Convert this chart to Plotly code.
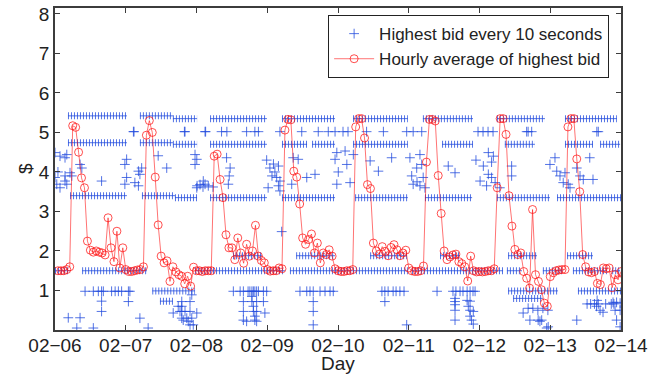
import plotly.graph_objects as go

# ---------------- data ----------------
# x axis: hours since 02-06 00:00
day_tick_hours = [0, 24, 48, 72, 96, 120, 144, 168, 192]
day_tick_labels = ["02\u221206", "02\u221207", "02\u221208", "02\u221209", "02\u221210",
                   "02\u221211", "02\u221212", "02\u221213", "02\u221214"]
price_ticks = [1, 2, 3, 4, 5, 6, 7, 8]

# hourly average of highest bid (hours 1..192)
avg_hour = list(range(1, 193))
avg_price = [
    1.5, 1.5, 1.5, 1.53, 1.6, 5.17, 5.13, 4.5, 3.85, 3.6, 2.25, 2.02,
    1.97, 2.0, 1.97, 1.95, 1.9, 2.84, 2.08, 1.73, 2.5, 1.57, 2.08, 1.53,
    1.48, 1.48, 1.5, 1.52, 1.53, 1.6, 4.93, 5.3, 5.0, 3.87, 2.66, 1.87,
    1.7, 1.75, 1.23, 1.6, 1.47, 1.4, 1.36, 1.17, 1.36, 1.11, 1.59, 1.5,
    1.5, 1.48, 1.5, 1.5, 1.5, 4.4, 4.45, 3.81, 3.35, 2.41, 2.08, 2.08,
    1.78, 2.33, 1.95, 1.69, 2.17, 1.87, 2.0, 2.65, 1.87, 1.76, 1.7, 1.53,
    1.49, 1.5, 1.5, 1.57, 1.55, 5.06, 5.33, 5.32, 4.02, 3.87, 3.19, 2.33,
    2.17, 2.29, 2.43, 1.95, 2.2, 1.7, 1.95, 1.91, 2.03, 1.87, 1.55, 1.5,
    1.48, 1.48, 1.5, 1.5, 1.53, 5.14, 5.35, 5.35, 4.86, 3.68, 3.58, 2.2,
    2.0, 1.92, 2.11, 1.99, 1.88, 2.09, 2.16, 2.03, 1.88, 1.95, 2.02, 1.57,
    1.5, 1.48, 1.48, 1.5, 1.62, 4.25, 5.33, 5.33, 5.29, 3.91, 2.95, 2.0,
    1.78, 1.85, 1.9, 1.92, 1.73, 1.68, 1.6, 1.24, 1.87, 1.5, 1.47, 1.48,
    1.47, 1.48, 1.5, 1.5, 1.55, 3.6, 5.35, 5.35, 4.95, 3.4, 2.63, 2.04,
    1.91, 1.95, 1.48, 1.31, 1.06, 3.05, 1.4, 1.23, 1.02, 0.68, 0.6, 1.35,
    1.45, 1.5, 1.52, 1.53, 1.53, 5.14, 5.35, 5.35, 4.33, 3.5, 1.91, 1.6,
    1.47, 1.45, 1.48, 1.18, 1.15, 1.57, 1.55, 1.57, 1.07, 1.4, 1.27, 1.48,
]

# highest bid every 10 s: periods during which the bid held a constant level
band_price = [5.42, 5.42,
              5.35, 5.35, 5.35, 5.35, 5.35, 5.35, 5.35,
              4.74, 4.74,
              4.70, 4.70, 4.70, 4.70, 4.70, 4.70, 4.70, 4.70, 4.70,
              3.40, 3.40,
              3.35, 3.35, 3.35, 3.35, 3.35, 3.35, 3.35,
              1.50, 1.50, 1.50, 1.50, 1.50, 1.50, 1.50, 1.50, 1.50,
              1.88, 1.88, 1.88, 1.88, 1.88, 1.88,
              0.99, 0.99, 0.99,
              0.73, 0.80]
band_start = [4.4, 28.8,
              40.0, 52.6, 77.0, 101.1, 124.8, 149.9, 173.0,
              4.4, 28.8,
              40.0, 52.6, 77.0, 87.2, 101.1, 131.3, 152.6, 173.0, 184.9,
              5.1, 29.5,
              40.7, 52.6, 77.0, 101.8, 125.5, 149.9, 170.3,
              0.0, 9.2, 47.5, 79.7, 121.1, 153.3, 165.5, 175.7, 189.0,
              60.4, 81.8, 106.9, 130.6, 153.7, 173.7,
              33.0, 153.7, 177.4,
              35.6, 155.4]
band_end = [24.4, 40.0,
            48.2, 71.9, 95.0, 119.7, 141.8, 166.2, 190.6,
            24.4, 40.0,
            48.2, 71.9, 85.5, 95.0, 119.7, 141.8, 162.8, 182.5, 191.7,
            24.4, 40.7,
            48.2, 71.9, 95.0, 119.7, 141.5, 167.9, 192.0,
            5.1, 31.2, 78.0, 119.7, 152.0, 158.4, 172.3, 187.2, 191.7,
            70.2, 95.0, 119.4, 137.4, 163.5, 182.5,
            47.5, 170.6, 192.0,
            40.0, 165.5]

# isolated highest-bid samples
scatter_hour = [
    # ~1.0 level, sparse
    10.2, 13.0, 14.7, 15.8, 16.4, 19.2, 20.4, 21.5, 22.6, 24.9, 25.4,
    60.5, 62.8, 63.9, 65.5, 66.1, 66.8, 67.3, 67.8, 68.4, 69.0, 70.7, 71.8,
    83.1, 85.4, 86.5, 87.6, 89.9, 91.6, 93.3, 94.4,
    110.9, 111.9, 113.0, 114.7, 115.7, 117.0, 118.4, 129.6,
    135.0, 136.0, 137.4, 138.4, 139.8, 140.8, 141.8, 142.5,
    # below 1
    4.5, 8.5, 7.4, 13.0, 15.8, 15.8, 24.9, 28.8, 31.6,
    40.1, 41.8, 42.4, 43.0, 43.0, 43.0, 43.0, 43.5, 44.1, 44.7, 45.2, 45.8, 45.8, 45.8,
    46.4, 46.9, 46.4, 48.1,
    63.9, 63.9, 63.9, 65.0, 66.8, 66.8, 67.3, 67.3, 67.8, 67.8, 68.4, 68.4, 68.4, 70.7, 71.2,
    87.6, 87.6, 87.6, 111.9, 119.3,
    135.7, 135.7, 135.7, 135.7, 135.7, 139.8, 140.2, 140.8, 140.8, 141.3, 141.9, 140.8, 141.9,
    160.5, 162.1, 163.8, 165.5, 167.2, 161.1, 163.9, 165.1, 167.3, 166.8, 164.5, 158.8, 177.0,
    183.9, 184.3, 184.9, 185.9, 189.3, 190.5, 191.7, 190.0, 191.7, 190.5, 191.7, 183.7,
    180.5, 181.7, 183.0, 186.8, 188.7, 189.6,
    # ~5.0 level
    26.6, 26.8, 43.9, 44.1, 50.9, 51.1, 56.5, 58.3, 65.0, 67.8, 69.0, 76.3, 83.7,
    89.3, 92.7, 95.0, 97.7, 99.4, 105.7, 111.4, 119.3, 121.5, 124.4, 143.5, 145.2,
    146.9, 148.6, 160.0, 160.5, 161.7, 183.8, 184.3,
    # 3.5 - 4.6 around each morning
    0.0, 1.7, 3.4, 4.0, 0.0, 0.6, 3.4, 3.4, 4.0, 5.1, 5.7, 8.5, 9.1, 15.8, 1.0, 1.7,
    23.7, 24.3, 24.3, 23.7, 27.1, 28.3, 28.8, 29.4, 28.3, 35.0, 37.9,
    47.5, 48.1, 47.5, 49.2, 50.3, 50.9, 48.1, 52.0, 58.2, 59.4, 59.1, 58.8, 48.2, 50.2, 53.6,
    71.8, 72.9, 74.1, 74.6, 75.8, 75.2, 76.3, 75.8, 76.3, 80.8, 82.5, 85.4, 88.2, 80.3,
    72.3, 73.6, 76.9,
    95.6, 98.4, 95.0, 96.1, 95.6, 99.0, 101.2, 100.1, 106.9, 109.7, 114.2,
    120.4, 121.0, 122.7, 123.8, 124.4, 124.9, 123.8, 121.5, 133.4, 135.7, 122.8, 125.5,
    147.0, 148.7, 148.1, 145.3, 147.0, 148.1, 144.2, 146.4, 149.3, 154.9, 154.9, 142.8, 150.9,
    167.9, 169.6, 170.2, 171.3, 173.0, 172.4, 174.1, 177.0, 178.1, 179.2, 181.4, 182.5, 174.7,
]
scatter_price = [
    0.98, 0.98, 0.98, 0.98, 0.98, 0.98, 0.98, 0.98, 0.98, 0.98, 0.98,
    0.98, 0.98, 0.98, 0.98, 0.98, 0.98, 0.98, 0.98, 0.98, 0.98, 0.98, 0.98,
    0.98, 0.98, 0.98, 0.98, 0.98, 0.98, 0.98, 0.98,
    0.98, 0.98, 0.98, 0.98, 0.98, 0.98, 0.98, 0.98,
    0.98, 0.98, 0.98, 0.98, 0.98, 0.98, 0.98, 0.98,
    0.31, 0.31, 0.05, 0.05, 0.73, 0.47, 0.72, 0.30, 0.05,
    0.43, 0.60, 0.47, 0.72, 0.60, 0.47, 0.30, 0.25, 0.47, 0.30, 0.22, 0.13, 0.72, 0.47,
    0.30, 0.13, 0.89, 0.43,
    0.72, 0.47, 0.25, 0.22, 0.85, 0.72, 0.60, 0.47, 0.35, 0.25, 0.72, 0.47, 0.22, 0.72, 0.43,
    0.72, 0.47, 0.13, 0.72, 0.13,
    0.80, 0.72, 0.64, 0.50, 0.25, 0.75, 0.60, 0.50, 0.35, 0.25, 0.15, 0.73, 0.47,
    0.55, 0.55, 0.50, 0.55, 0.50, 0.25, 0.25, 0.25, 0.08, 0.05, 0.22, 0.43, 0.25,
    0.75, 0.66, 0.50, 0.45, 0.70, 0.70, 0.68, 0.50, 0.50, 0.25, 0.08, 0.60,
    0.66, 0.66, 0.66, 0.66, 0.66, 0.66,
    5.02, 5.02, 5.02, 5.02, 5.02, 5.02, 5.02, 5.02, 5.02, 5.02, 5.02, 5.02, 5.02,
    5.02, 5.02, 5.02, 5.02, 5.02, 5.02, 5.02, 5.02, 5.02, 5.02, 5.02, 5.02,
    5.02, 5.02, 5.02, 5.02, 5.02, 5.02, 5.02,
    4.49, 4.40, 4.36, 4.44, 3.86, 3.69, 3.90, 3.77, 3.69, 3.98, 3.90, 4.19, 4.10, 3.77, 4.00, 3.60,
    4.19, 4.32, 3.86, 3.69, 3.73, 4.02, 3.94, 4.10, 3.65, 4.41, 4.10,
    4.44, 4.32, 4.19, 3.68, 3.77, 3.69, 3.60, 3.65, 4.36, 4.10, 3.90, 3.69, 3.65, 3.62, 3.62,
    4.30, 4.10, 4.20, 4.00, 4.15, 3.86, 3.77, 3.65, 3.52, 4.36, 4.32, 3.86, 3.94, 3.69,
    3.60, 3.90, 2.49,
    4.49, 4.53, 4.32, 4.00, 3.69, 4.19, 4.44, 3.73, 4.28, 4.02, 4.36,
    4.36, 3.90, 4.10, 4.44, 4.19, 3.86, 3.65, 3.69, 4.15, 3.98, 3.75, 3.60,
    4.49, 4.40, 4.25, 4.15, 3.94, 3.86, 3.77, 3.65, 3.73, 4.15, 3.90, 4.30, 3.60,
    4.19, 4.36, 4.02, 3.90, 3.98, 3.73, 3.69, 4.10, 3.90, 3.81, 4.36, 3.81, 3.60,
]

# ---------------- figure ----------------
BLUE = "rgba(35,75,222,0.78)"
FONT = "Liberation Sans, Arial, Helvetica, sans-serif"

seg_x, seg_y = [], []
for s, e, p in zip(band_start, band_end, band_price):
    seg_x += [s, e, None]
    seg_y += [p, p, None]

fig = go.Figure()
# thin horizontal arms of the packed "+" markers
fig.add_trace(go.Scatter(x=seg_x, y=seg_y, mode="lines", showlegend=False,
                         line=dict(color=BLUE, width=1), hoverinfo="skip"))
# vertical strokes of the packed "+" markers
fig.add_trace(go.Scatter(x=seg_x, y=seg_y, mode="lines", showlegend=False,
                         line=dict(color=BLUE, width=7, dash="1px,2px"), hoverinfo="skip"))
fig.add_trace(go.Scatter(
    x=scatter_hour, y=scatter_price, mode="markers",
    name="Highest bid every 10 seconds",
    marker=dict(symbol="cross-thin-open", size=7, color=BLUE,
                line=dict(color=BLUE, width=1))))
fig.add_trace(go.Scatter(
    x=avg_hour, y=avg_price, mode="lines+markers",
    name="Hourly average of highest bid",
    line=dict(color="rgba(255,0,0,0.55)", width=1),
    marker=dict(symbol="circle-open", size=8, color="rgba(255,20,20,0.75)",
                line=dict(color="rgba(255,20,20,0.75)", width=1))))

axis_common = dict(showline=True, linecolor="#3c3c3c", linewidth=1.5,
                   mirror="ticks", ticks="inside", ticklen=5, tickcolor="#3c3c3c",
                   showgrid=False, zeroline=False, automargin=False,
                   tickfont=dict(family=FONT, size=19, color="#222"))

fig.update_layout(
    width=662, height=374, autosize=False,
    margin=dict(l=55, r=41, t=8, b=44),
    paper_bgcolor="white", plot_bgcolor="white",
    font=dict(family=FONT, color="#222"),
    xaxis=dict(range=[0, 192], tickvals=day_tick_hours, ticktext=day_tick_labels,
               ticklabelstandoff=-3, **axis_common),
    yaxis=dict(range=[0, 8.15], tickvals=price_ticks, **axis_common),
    legend=dict(x=0.979, y=0.978, xanchor="right", yanchor="top",
                bgcolor="white", bordercolor="#222", borderwidth=1,
                font=dict(family=FONT, size=17, color="#222"),
                itemwidth=40, tracegroupgap=0),
    showlegend=True,
    annotations=[
        dict(text="Day", xref="paper", yref="paper", x=0.5, y=-0.1025,
             xanchor="center", yanchor="middle", showarrow=False,
             font=dict(family=FONT, size=19, color="#222")),
        dict(text="$", xref="paper", yref="paper", x=-0.053, y=0.5,
             xanchor="center", yanchor="middle", textangle=-90, showarrow=False,
             font=dict(family=FONT, size=19, color="#222")),
    ],
)

fig.write_html("out.html", config={"displayModeBar": False},
               post_script="document.body.style.margin='0';document.body.style.overflow='hidden';")
